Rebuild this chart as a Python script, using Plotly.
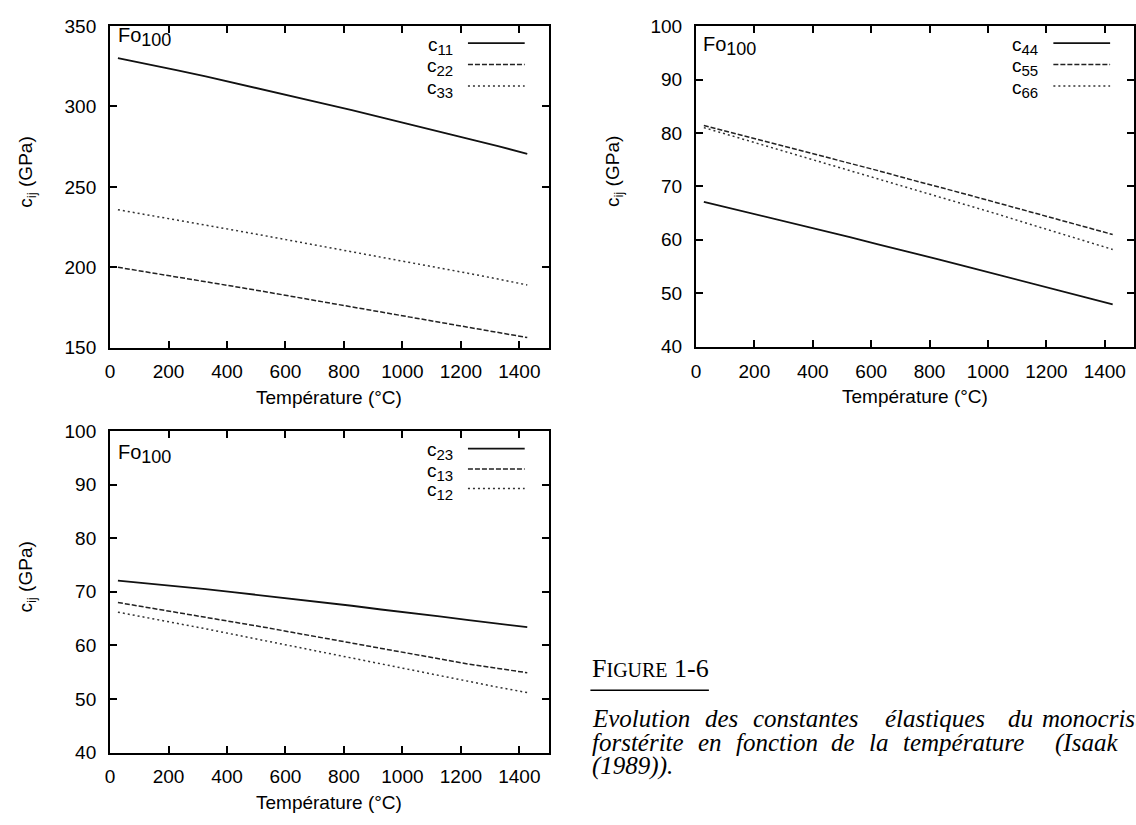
import plotly.graph_objects as go

# ---------------- data ----------------
temperature = [27, 127, 227, 327, 427, 527, 627, 727, 827, 927, 1027, 1127, 1227, 1327, 1427]

c11 = [330.0, 326.4, 322.6, 318.7, 314.6, 310.5, 306.4, 302.0, 297.7, 293.3, 288.9, 284.5, 279.9, 275.3, 270.6]
c22 = [200.0, 197.1, 194.1, 191.1, 188.0, 184.9, 181.8, 178.6, 175.4, 172.2, 169.0, 165.8, 162.6, 159.4, 156.3]
c33 = [235.8, 232.7, 229.5, 226.3, 223.0, 219.7, 216.4, 213.1, 209.8, 206.4, 203.0, 199.6, 196.2, 192.7, 189.0]

c44 = [67.1, 65.8, 64.5, 63.2, 61.8, 60.5, 59.1, 57.8, 56.4, 55.0, 53.6, 52.2, 50.7, 49.3, 47.9]
c55 = [81.4, 80.0, 78.6, 77.2, 75.8, 74.3, 72.9, 71.4, 70.0, 68.5, 67.0, 65.5, 64.0, 62.5, 61.0]
c66 = [81.0, 79.4, 77.8, 76.2, 74.6, 73.0, 71.4, 69.8, 68.1, 66.5, 64.9, 63.2, 61.5, 59.9, 58.2]

c23 = [72.1, 71.6, 71.1, 70.5, 69.9, 69.3, 68.6, 68.0, 67.4, 66.7, 66.1, 65.4, 64.7, 64.0, 63.4]
c13 = [68.0, 67.1, 66.2, 65.3, 64.3, 63.4, 62.4, 61.4, 60.4, 59.4, 58.4, 57.4, 56.5, 55.7, 54.9]
c12 = [66.2, 65.2, 64.2, 63.1, 62.0, 60.9, 59.8, 58.7, 57.6, 56.5, 55.4, 54.3, 53.2, 52.2, 51.2]

x_ticks = [0, 200, 400, 600, 800, 1000, 1200, 1400]
y_ticks_top_left = [150, 200, 250, 300, 350]
y_ticks_small = [40, 50, 60, 70, 80, 90, 100]

panel_names = {
    "tl": ["c<sub>11</sub>", "c<sub>22</sub>", "c<sub>33</sub>"],
    "tr": ["c<sub>44</sub>", "c<sub>55</sub>", "c<sub>66</sub>"],
    "bl": ["c<sub>23</sub>", "c<sub>13</sub>", "c<sub>12</sub>"],
}
sample_label = "Fo<sub><span style='font-size:18px'>100</span></sub>"
x_title = "Température (°C)"
y_title = "c<sub>ij</sub> (GPa)"
fig_label = "F<span style='font-size:20px'>IGURE</span> 1-6"
caption_line1 = [("Evolution", 588), ("des", 701), ("constantes", 749), ("élastiques", 882),
                 ("du", 1005), ("monocristal", 1040)]
caption_line2 = [("forstérite", 588), ("en", 694), ("fonction", 732), ("de", 828), ("la", 866),
                 ("température", 900), ("(Isaak", 1053)]
caption_line3 = [("(1989)).", 588)]

# ---------------- geometry ----------------
W, H = 1136, 825


def px(x):
    return x / W


def py(y):
    return 1 - y / H


panels = {
    # key: (x0, x1, ytop, ybottom) in pixels
    "tl": (105.5, 546, 16.5, 346.5),
    "tr": (694, 1134, 16.5, 345.5),
    "bl": (105.5, 546, 432, 762),
}
axis_ids = {"tl": ("x", "y"), "tr": ("x2", "y2"), "bl": ("x3", "y3")}

styles = [
    dict(color="#111111", width=1.8, dash="solid"),
    dict(color="#222222", width=1.5, dash="5px,2px"),
    dict(color="#333333", width=1.5, dash="2px,3px"),
]

fig = go.Figure()

series = {"tl": [c11, c22, c33], "tr": [c44, c55, c66], "bl": [c23, c13, c12]}
for key, ys in series.items():
    xa, ya = axis_ids[key]
    for vals, st, name in zip(ys, styles, panel_names[key]):
        fig.add_trace(go.Scatter(x=temperature, y=vals, mode="lines", line=st,
                                 name=name, showlegend=False, xaxis=xa, yaxis=ya))

tick_font = dict(family="Liberation Sans, Arial, sans-serif", size=19, color="black")
common_axis = dict(showline=True, linewidth=2, linecolor="black", mirror="allticks",
                   ticks="inside", ticklen=7, tickwidth=1.5, tickcolor="black",
                   showgrid=False, zeroline=False, tickfont=tick_font)

layout_axes = {}
for key, (x0, x1, yt, yb) in panels.items():
    xa, ya = axis_ids[key]
    xname = "xaxis" if xa == "x" else "xaxis" + xa[1:]
    yname = "yaxis" if ya == "y" else "yaxis" + ya[1:]
    layout_axes[xname] = dict(common_axis, domain=[px(x0), px(x1)], range=[0, 1500],
                              tickvals=x_ticks, anchor=ya, ticklabelstandoff=6)
    if key == "tl":
        yr, yt_vals = [150, 350], y_ticks_top_left
    else:
        yr, yt_vals = [40, 100], y_ticks_small
    layout_axes[yname] = dict(common_axis, domain=[py(yb), py(yt)], range=yr,
                              tickvals=yt_vals, anchor=xa, ticklabelstandoff=8)

fig.update_layout(width=W, height=H, margin=dict(l=0, r=0, t=0, b=0),
                  paper_bgcolor="white", plot_bgcolor="white", showlegend=False,
                  **layout_axes)

annotations = []
shapes = []
label_font = dict(family="Liberation Sans, Arial, sans-serif", size=19, color="black")

fo_pos = {"tl": (111, 28), "tr": (699, 37), "bl": (111, 456)}
legend_rows = {"tl": [34, 56, 78], "tr": [34, 56, 78], "bl": [450, 471, 491]}
for key, (x0, x1, yt, yb) in panels.items():
    # axis titles
    cx = (x0 + x1) / 2
    annotations.append(dict(text=x_title, x=px(cx), y=py(yb + 51), xref="paper", yref="paper",
                            showarrow=False, font=label_font, xanchor="center", yanchor="middle"))
    annotations.append(dict(text=y_title, x=px(x0 - 83), y=py((yt + yb) / 2 - 15), xref="paper",
                            yref="paper", showarrow=False, font=label_font, textangle=-90,
                            xanchor="center", yanchor="middle"))
    # Fo100 label
    fx, fy = fo_pos[key]
    annotations.append(dict(text=sample_label,
                            x=px(fx), y=py(fy), xref="paper", yref="paper", showarrow=False,
                            font=dict(family="Liberation Sans, Arial, sans-serif", size=20, color="black"),
                            xanchor="left", yanchor="middle"))
    # legend (text on the left, sample on the right)
    for row_y, name, st in zip(legend_rows[key], panel_names[key], styles):
        annotations.append(dict(text=name.replace("<sub>", "<sub><span style='font-size:15px'>").replace("</sub>", "</span></sub>"),
                                x=px(x1 - 94), y=py(row_y + 3), xref="paper", yref="paper",
                                showarrow=False, font=label_font, xanchor="right", yanchor="middle"))
        shapes.append(dict(type="line", xref="paper", yref="paper",
                           x0=px(x1 - 81), x1=px(x1 - 24), y0=py(row_y), y1=py(row_y),
                           line=st))

# caption
annotations.append(dict(text=fig_label, x=px(588), y=py(693), xref="paper", yref="paper",
                        showarrow=False, xanchor="left", yanchor="bottom",
                        font=dict(family="Liberation Serif, Times New Roman, serif", size=26, color="black")))
shapes.append(dict(type="line", xref="paper", yref="paper", x0=px(588), x1=px(707),
                   y0=py(698), y1=py(698), line=dict(color="black", width=1.5)))

cap_font = dict(family="Liberation Serif, Times New Roman, serif", size=25, color="black")
for line, ycen in ((caption_line1, 727), (caption_line2, 752), (caption_line3, 776)):
    for word, wx in line:
        annotations.append(dict(text="<i>" + word + "</i>", x=px(wx), y=py(ycen), xref="paper",
                                yref="paper", showarrow=False, xanchor="left", yanchor="middle",
                                font=cap_font))

fig.update_layout(annotations=annotations, shapes=shapes)

fig.write_html("out.html")
